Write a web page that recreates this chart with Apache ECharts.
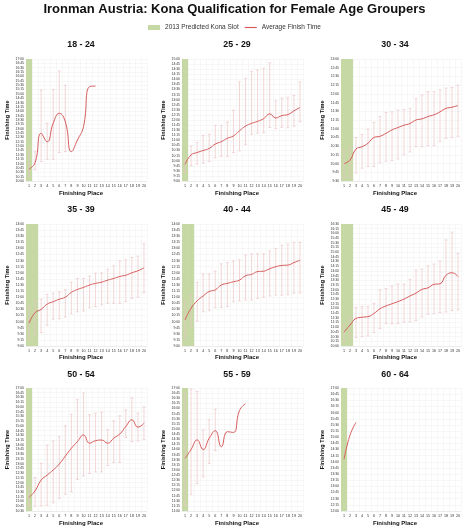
<!DOCTYPE html>
<html><head><meta charset="utf-8">
<script src="https://cdn.jsdelivr.net/npm/echarts@6/dist/echarts.min.js"></script>
<style>html,body{margin:0;padding:0;background:#fff}#c{width:469px;height:530px}</style>
</head><body><div id="c"></div>
<script>
// ---------- DATA ----------
const places = ['1','2','3','4','5','6','7','8','9','10','11','12','13','14','15','16','17','18','19','20'];
const groupNames = ['18 - 24','25 - 29','30 - 34','35 - 39','40 - 44','45 - 49','50 - 54','55 - 59','60 - 64'];
const yMinLabels = ['10:00','9:00','9:30','9:00','9:00','10:00','10:30','11:00','12:00'];
const yMaxLabels = ['17:00','15:00','13:00','14:00','14:00','16:30','17:00','17:00','17:00'];
const konaSlots = [1,1,2,2,2,2,1,1,1];

const avg_18_24 = ['10:41','11:03','12:44','12:15','13:19','13:53','13:24','11:41','12:21','13:07','15:25','15:27'];
const low_18_24 = ['10:15','10:38','11:07','11:15','11:15','11:38','11:41'];
const high_18_24 = ['11:52','11:41','15:13','13:19','15:15','16:19','15:30'];

const avg_25_29 = ['9:49','10:17','10:24','10:30','10:36','10:49','10:56','11:06','11:13','11:28','11:42','11:50','11:56','12:04','12:18','12:06','12:13','12:16','12:27','12:37'];
const low_25_29 = ['9:27','9:45','9:50','9:52','9:57','10:09','10:13','10:12','10:24','10:29','10:48','11:18','11:21','11:23','11:38','11:35','11:38','11:37','11:42','11:55'];
const high_25_29 = ['10:02','10:43','10:54','11:15','11:18','11:44','11:44','11:54','12:29','13:53','14:03','14:23','14:28','14:33','14:49','12:57','13:05','13:07','13:12','13:52'];

const avg_30_34 = ['10:00','10:06','10:25','10:29','10:35','10:45','10:47','10:52','10:58','11:02','11:06','11:09','11:15','11:17','11:21','11:24','11:29','11:35','11:37','11:40'];
const low_30_34 = ['9:35','9:37','9:44','9:52','9:55','9:55','10:01','10:04','10:05','10:08','10:15','10:20','10:29','10:29','10:31','10:31','10:38','10:43','10:45','10:47'];
const high_30_34 = ['10:22','10:27','10:45','10:50','10:59','11:11','11:21','11:28','11:29','11:32','11:33','11:35','11:52','11:58','12:04','12:04','12:07','12:10','12:11','12:15'];

const avg_35_39 = ['9:56','10:22','10:30','10:43','10:49','10:55','11:00','11:12','11:19','11:24','11:30','11:34','11:37','11:42','11:46','11:51','11:54','12:00','12:05','12:12'];
const low_35_39 = ['9:16','9:25','9:33','9:51','10:06','10:07','10:11','10:19','10:24','10:26','10:34','10:37','10:41','10:45','10:45','10:45','10:49','10:57','11:00','11:11'];
const high_35_39 = ['10:37','10:53','10:55','11:07','11:10','11:13','11:19','11:37','11:46','11:46','11:52','11:59','12:00','12:09','12:17','12:30','12:32','12:38','12:41','13:11'];

const avg_40_44 = ['10:04','10:33','10:51','11:03','11:14','11:18','11:30','11:34','11:38','11:42','11:53','11:56','12:03','12:04','12:10','12:15','12:18','12:19','12:25','12:31'];
const low_40_44 = ['9:20','9:46','10:01','10:24','10:27','10:34','10:35','10:37','10:49','10:51','10:53','10:53','10:57','11:00','11:03','11:05','11:05','11:06','11:10','11:10'];
const high_40_44 = ['10:51','11:05','11:37','11:57','11:57','12:04','12:22','12:25','12:29','12:32','12:44','12:47','12:47','12:47','12:54','13:00','13:08','13:11','13:15','13:15'];

const avg_45_49 = ['10:44','11:07','11:28','11:32','11:34','11:44','11:59','12:08','12:15','12:22','12:30','12:40','12:49','13:01','13:06','13:17','13:19','13:46','13:54','13:42'];
const low_45_49 = ['10:16','10:27','10:27','10:30','10:32','10:43','10:56','11:12','11:11','11:12','11:16','11:17','11:21','11:33','11:41','11:43','11:47','11:49','11:53','11:55'];
const high_45_49 = ['11:09','11:32','12:04','12:06','12:06','12:16','12:59','13:04','13:12','13:18','13:18','13:33','14:03','14:06','14:16','14:22','14:32','15:39','16:04','14:56'];

const avg_50_54 = ['11:13','11:34','12:08','12:24','12:40','12:59','13:24','13:49','14:10','14:31','14:05','14:13','14:15','14:05','14:21','14:34','14:58','15:19','14:56','15:08'];
const low_50_54 = ['10:45','10:45','10:46','10:48','10:56','11:09','11:23','11:31','12:10','12:21','12:29','12:34','12:34','12:54','13:04','13:04','14:24','14:10','14:12','14:17'];
const high_50_54 = ['11:44','12:16','13:01','13:59','14:12','14:26','15:00','15:37','16:23','16:44','15:35','15:40','15:44','14:49','15:16','15:32','15:51','16:28','15:40','16:00'];

const avg_55_59 = ['13:34','14:00','14:28','14:00','14:33','14:55','14:08','14:52','14:50','15:54','16:14'];
const low_55_59 = ['11:17','11:49','12:20','12:40','13:19','13:57'];
const high_55_59 = ['16:43','16:57','16:50','14:57','15:27','15:58'];

const avg_60_64 = ['14:06','15:05','15:36'];
const low_60_64 = [];
const high_60_64 = [];

const avgAll = [avg_18_24,avg_25_29,avg_30_34,avg_35_39,avg_40_44,avg_45_49,avg_50_54,avg_55_59,avg_60_64];
const lowAll = [low_18_24,low_25_29,low_30_34,low_35_39,low_40_44,low_45_49,low_50_54,low_55_59,low_60_64];
const highAll = [high_18_24,high_25_29,high_30_34,high_35_39,high_40_44,high_45_49,high_50_54,high_55_59,high_60_64];

// ---------- LAYOUT / STYLE ----------
const colLeft = [26, 182, 341], colWidth = [121, 121, 120];
const rowTop = [59, 224, 388], rowHeight = [122, 122, 123];
const colCenter = [81, 237, 395];
const titleY = [45, 210, 375], xNameY = [193, 357, 523];
const GREEN = '#c6d9a4', RED = '#d65c5c', BAR = '#ebc6c6';

function toMin(s){ const p = s.split(':'); return (+p[0])*60 + (+p[1]); }
function fmt(v){ const h = Math.floor(v/60), m = v%60; return h + ':' + (m<10?'0':'') + m; }

const grids = [], xAxes = [], yAxes = [], series = [], graphics = [];
for (let i = 0; i < 9; i++) {
  const r = Math.floor(i/3), c = i%3;
  grids.push({left: colLeft[c], top: rowTop[r], width: colWidth[c], height: rowHeight[r],
    outerBoundsMode: 'none', containLabel: false, show: false});
  xAxes.push({type: 'category', gridIndex: i, data: places, boundaryGap: true,
    axisLine: {show: true, lineStyle: {color: '#e3e3e3', width: 0.6}},
    axisTick: {show: false},
    axisLabel: {interval: 0, fontSize: 3.7, color: '#333', margin: 3, fontFamily: 'Liberation Sans'},
    splitLine: {show: true, interval: 0, lineStyle: {color: '#efefef', width: 0.5}}});
  yAxes.push({type: 'value', gridIndex: i, min: toMin(yMinLabels[i]), max: toMin(yMaxLabels[i]), interval: 15,
    name: 'Finishing Time', nameLocation: 'middle', nameGap: 16, nameRotate: 90,
    nameTextStyle: {fontSize: 5.6, fontWeight: 'bold', color: '#111', fontFamily: 'Liberation Sans'},
    axisLine: {show: true, lineStyle: {color: '#e3e3e3', width: 0.6}},
    axisTick: {show: false},
    axisLabel: {fontSize: 3.4, color: '#333', margin: 2, formatter: fmt, fontFamily: 'Liberation Sans'},
    splitLine: {show: true, lineStyle: {color: '#efefef', width: 0.5}}});

  const slotData = [];
  for (let k = 0; k < konaSlots[i]; k++) slotData.push([k, toMin(yMinLabels[i])]);
  series.push({type: 'custom', name: '2013 Predicted Kona Slot', xAxisIndex: i, yAxisIndex: i,
    itemStyle: {color: GREEN}, encode: {x: 0, y: 1}, data: slotData, z: 1, silent: true,
    renderItem: function(params, api){
      const cs = params.coordSys;
      const x = api.coord([api.value(0), api.value(1)])[0];
      const w = api.size([1, 0])[0];
      return {type: 'rect', shape: {x: x - w/2, y: cs.y, width: w, height: cs.height},
        style: {fill: GREEN}};
    }});

  const barData = lowAll[i].map((lo, k) => [k, toMin(lo), toMin(highAll[i][k])]);
  series.push({type: 'custom', name: 'range', xAxisIndex: i, yAxisIndex: i,
    encode: {x: 0, y: [1, 2]}, data: barData, z: 2, silent: true,
    renderItem: function(params, api){
      const p1 = api.coord([api.value(0), api.value(1)]);
      const p2 = api.coord([api.value(0), api.value(2)]);
      const cap = 1.4, st = {stroke: BAR, lineWidth: 0.7};
      return {type: 'group', children: [
        {type: 'line', shape: {x1: p1[0], y1: p1[1], x2: p2[0], y2: p2[1]}, style: st},
        {type: 'line', shape: {x1: p1[0]-cap, y1: p1[1], x2: p1[0]+cap, y2: p1[1]}, style: st},
        {type: 'line', shape: {x1: p2[0]-cap, y1: p2[1], x2: p2[0]+cap, y2: p2[1]}, style: st}
      ]};
    }});

  series.push({type: 'line', name: 'Average Finish Time', xAxisIndex: i, yAxisIndex: i,
    data: avgAll[i].map(toMin), smooth: true, symbol: 'none', z: 3, silent: true,
    lineStyle: {color: RED, width: 1}, itemStyle: {color: RED}});

  graphics.push({type: 'text', x: colCenter[c], y: titleY[r],
    style: {text: groupNames[i], textAlign: 'center', textVerticalAlign: 'middle',
      font: 'bold 8.8px "Liberation Sans"', fill: '#111'}});
  graphics.push({type: 'text', x: colCenter[c], y: xNameY[r],
    style: {text: 'Finishing Place', textAlign: 'center', textVerticalAlign: 'middle',
      font: 'bold 6px "Liberation Sans"', fill: '#111'}});
}

const chart = echarts.init(document.getElementById('c'), null, {renderer: 'canvas'});
chart.setOption({
  backgroundColor: '#fff',
  animation: false,
  title: {text: 'Ironman Austria: Kona Qualification for Female Age Groupers', left: 'center', top: 3, padding: 0,
    textStyle: {fontSize: 13, fontWeight: 'bold', color: '#111', fontFamily: 'Liberation Sans'}},
  legend: {top: 24, left: 'center', itemWidth: 12, itemHeight: 5, itemGap: 6, padding: 0, symbolKeepAspect: true,
    textStyle: {fontSize: 6.5, color: '#333', fontFamily: 'Liberation Sans'},
    data: [{name: '2013 Predicted Kona Slot', icon: 'rect', itemStyle: {color: GREEN}},
           {name: 'Average Finish Time', icon: 'path://M0,0h24v2.4h-24z', itemStyle: {color: RED}}]},
  grid: grids, xAxis: xAxes, yAxis: yAxes, series: series, graphic: graphics
});
</script></body></html>
